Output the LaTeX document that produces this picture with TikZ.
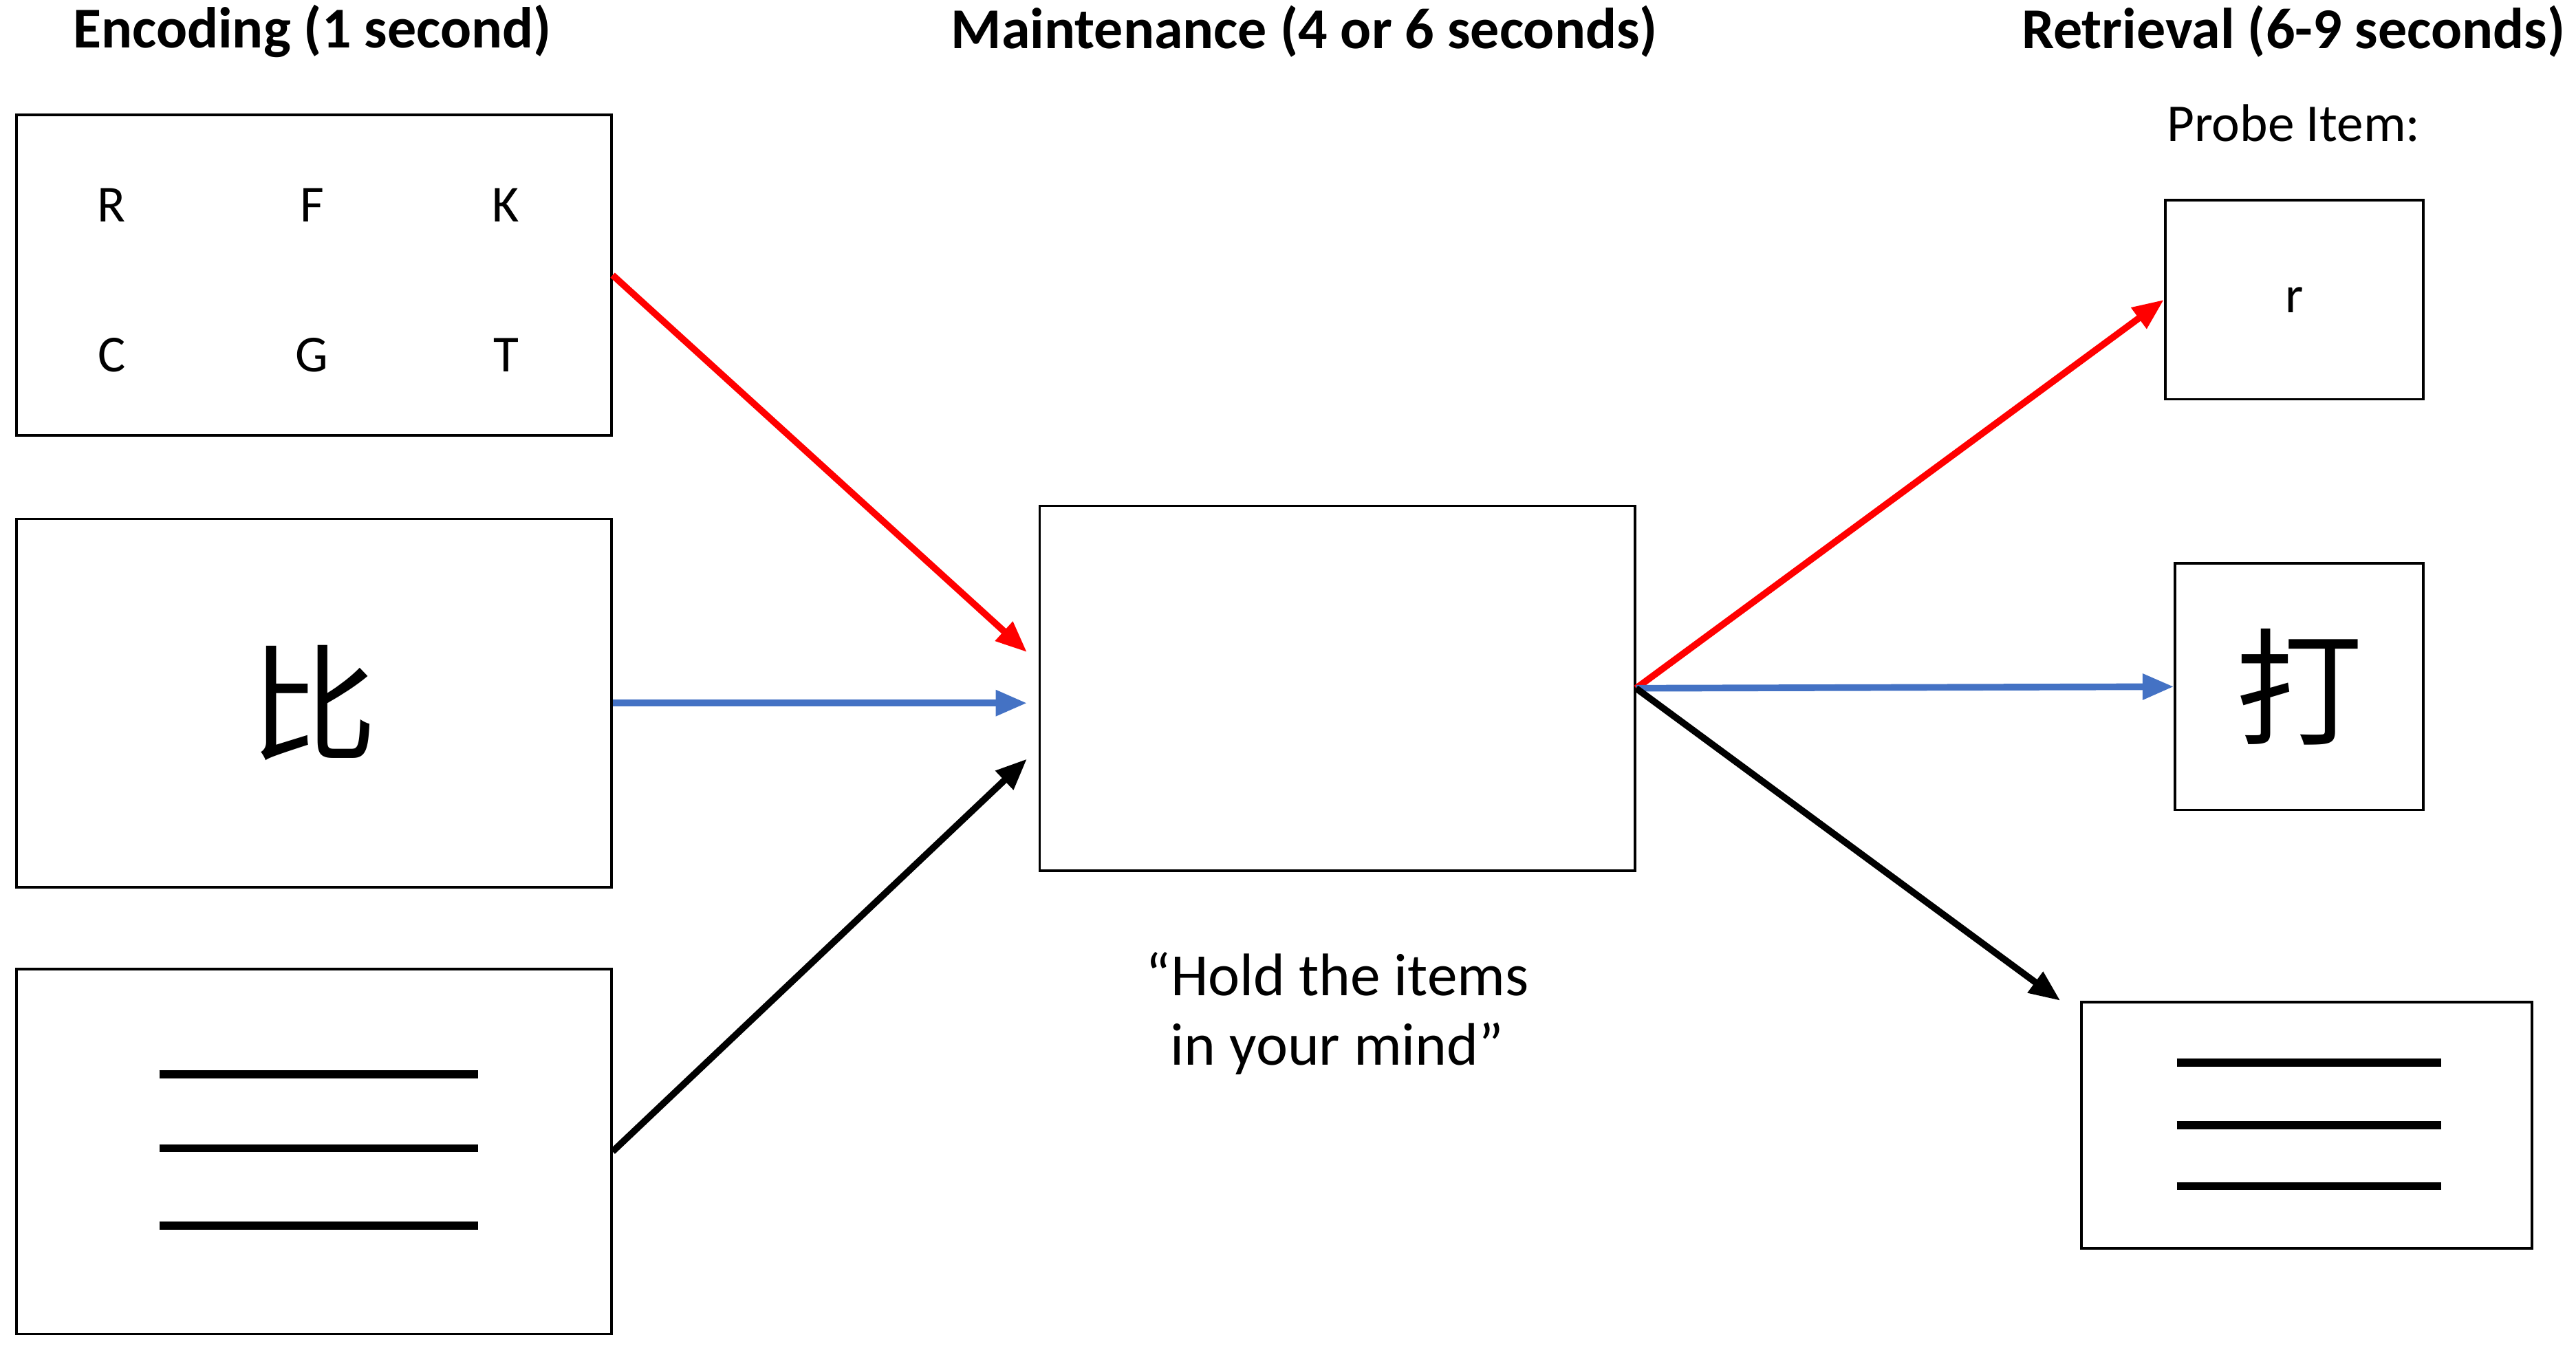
\documentclass[tikz,border=0pt]{standalone}
\usepackage{fontspec}
\setmainfont{Carlito}
\newfontfamily\cjk{Noto Sans CJK SC}
\usetikzlibrary{calc,arrows.meta}
\definecolor{arrred}{RGB}{255,0,0}
\definecolor{arrblue}{RGB}{68,114,196}

\begin{document}
\begin{tikzpicture}[x=0.01cm, y=-0.01cm,
		card/.style={draw, line width=0.45pt, inner sep=0pt},
		title/.style={font=\bfseries\fontsize{10}{12}\selectfont},
		letter/.style={font=\fontsize{9}{11}\selectfont},
		hanzi/.style={font=\cjk\fontsize{22}{24}\selectfont},
		link/.style={line width=1.15pt, -{Triangle[length=0.19cm, width=0.15cm]}},
		bar/.style={line width=1.4pt}]
		%%%%% START %%%%%
		
		\useasboundingbox (0,0) rectangle (1568,819);
		
		\node[title] (enc) at (190,19) {Encoding (1 second)};
		\node[title] (maint) at (794,19) {Maintenance (4 or 6 seconds)};
		\node[title] (ret) at (1396,19) {Retrieval (6-9 seconds)};
		\node[font=\fontsize{9.2}{11}\selectfont] (probe) at (1396,75) {Probe Item:};
		
		% encoding cards
		\node[card, minimum width=3.62cm, minimum height=1.95cm] (b1) at (191,167.5) {};
		\foreach \t/\x/\y in {R/68/125, F/190/125, K/308/125, C/68/216, G/190/216, T/308/216}
			\node[letter] (l\t) at (\x,\y) {\t};
		
		\node[card, minimum width=3.62cm, minimum height=2.24cm] (b2) at (191,428) {};
		\node[hanzi] (bi) at (b2) {比};
		
		\node[card, minimum width=3.62cm, minimum height=2.22cm] (b3) at (191,701) {};
		\foreach \y in {-47,-2,45}
			\draw[bar] ($(b3.center)+(-94,\y)$) -- ++(194,0);
		
		% maintenance
		\node[card, minimum width=3.62cm, minimum height=2.22cm] (mid) at (814,419) {};
		\node[align=center, font=\fontsize{10.4}{12}\selectfont] (hold) at (814,617) {“Hold the items\\in your mind”};
		
		% probe cards
		\node[card, minimum width=1.57cm, minimum height=1.21cm] (r1) at (1396.5,182.5) {};
		\node[letter] (lr) at (r1) {r};
		
		\node[card, minimum width=1.51cm, minimum height=1.50cm] (r2) at (1399.5,418) {};
		\node[hanzi] (da) at (r2) {打};
		
		\node[card, minimum width=2.74cm, minimum height=1.50cm] (r3) at (1404,685) {};
		\foreach \y in {-38,0,37}
			\draw[bar] ($(r3.center)+(-79,\y)$) -- ++(161,0);
		
		% arrows
		\coordinate (inR) at ($(mid.west)+(-7,-22)$);
		\coordinate (inB) at ($(mid.west)+(-7,9)$);
		\coordinate (inK) at ($(mid.west)+(-7,43)$);
		\coordinate (outK) at ($(r3.north west)+(-12,0)$);
		
		\draw[link, arrred] (b1.east) -- (inR);
		\draw[link, arrblue] (b2.east) -- (inB);
		\draw[link] (b3.east) -- (inK);
		
		\draw[link, arrred] (mid.east) -- (r1.west);
		\draw[link, arrblue] (mid.east) -- (r2.west);
		\draw[link] (mid.east) -- (outK);
		
		%%%%% END %%%%%
\end{tikzpicture}
\end{document}
